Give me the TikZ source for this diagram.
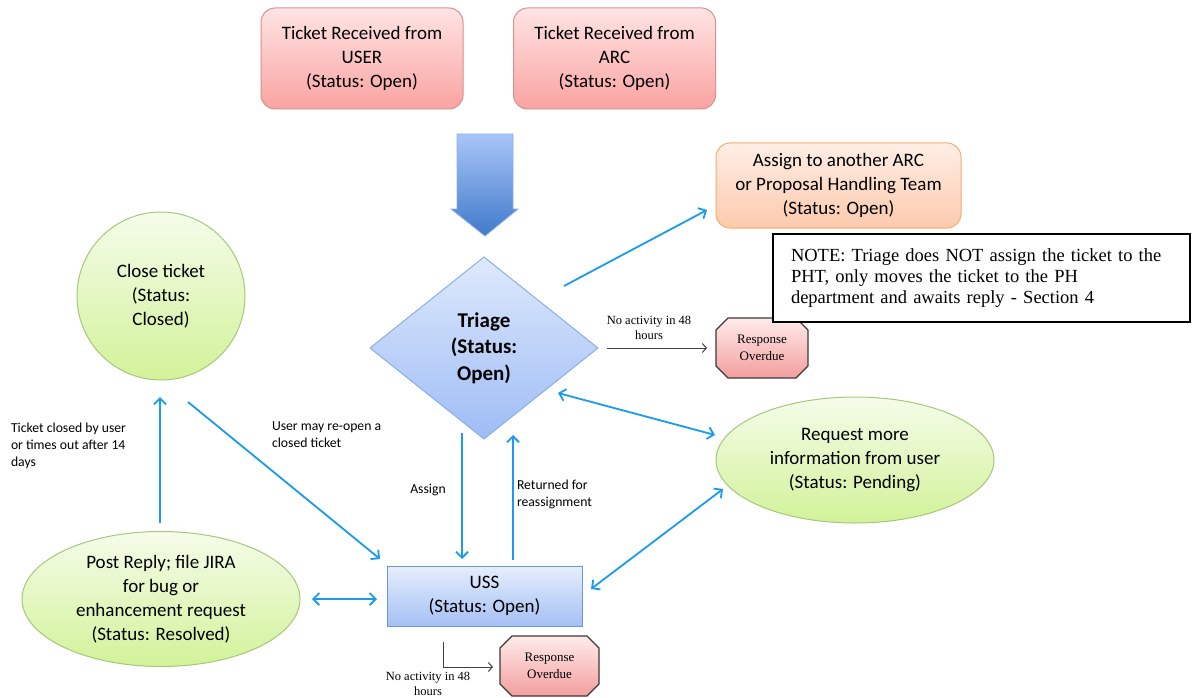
\documentclass[tikz,border=0pt]{standalone}
\usepackage{fontspec}
\setmainfont{Carlito}
\newfontfamily\seriffont{Liberation Serif}
\usetikzlibrary{shapes.geometric,arrows.meta}
\definecolor{pinkline}{HTML}{D9908E}
\definecolor{pinktop}{HTML}{FFE4E4}
\definecolor{pinkbot}{HTML}{F9A3A1}
\definecolor{orline}{HTML}{F6AC70}
\definecolor{ortop}{HTML}{FFEEE6}
\definecolor{orbot}{HTML}{FCCAAC}
\definecolor{diaLine}{HTML}{8CAEE8}
\definecolor{diaTop}{HTML}{DEE9FC}
\definecolor{diaBot}{HTML}{9EBCF5}
\definecolor{ussLine}{HTML}{6C96DA}
\definecolor{ussTop}{HTML}{E5EEFD}
\definecolor{ussBot}{HTML}{A5C0F4}
\definecolor{grLine}{HTML}{A8C77A}
\definecolor{grTop}{HTML}{F5FCEA}
\definecolor{grBot}{HTML}{D2F299}
\definecolor{octLine}{HTML}{3A3A3A}
\definecolor{octTop}{HTML}{FFEBEB}
\definecolor{octBot}{HTML}{F39E9E}
\definecolor{arrLine}{HTML}{8EAFE6}
\definecolor{arrTop}{HTML}{A9C5F8}
\definecolor{arrBot}{HTML}{3F7ACB}
\definecolor{connBlue}{HTML}{1A9AF0}
\definecolor{grayLine}{HTML}{404040}
\begin{document}
\begin{tikzpicture}[x=1pt,y=-1pt,
  every node/.style={inner sep=0pt,outer sep=0pt},
  bigtxt/.style={font=\fontsize{19}{24}\selectfont,align=center},
  pinkbox/.style={bigtxt,rectangle,rounded corners=14pt,draw=pinkline,line width=1pt,top color=pinktop,bottom color=pinkbot,minimum width=202pt,minimum height=101pt},
  orangebox/.style={bigtxt,rectangle,rounded corners=14pt,draw=orline,line width=1pt,top color=ortop,bottom color=orbot,minimum width=245pt,minimum height=85pt},
  diam/.style={diamond,draw=diaLine,line width=1pt,top color=diaTop,bottom color=diaBot,minimum width=228pt,minimum height=182pt,font=\bfseries\fontsize{21}{26.5}\selectfont,align=center},
  ussbox/.style={bigtxt,rectangle,draw=ussLine,line width=1pt,top color=ussTop,bottom color=ussBot,minimum width=195pt,minimum height=60pt},
  greenshape/.style={bigtxt,ellipse,draw=grLine,line width=1pt,top color=grTop,bottom color=grBot},
  octfill/.style={draw=octLine,line width=1.2pt,top color=octTop,bottom color=octBot},
  octo/.style={rectangle,font=\seriffont\fontsize{13}{17}\selectfont,align=center},
  notebox/.style={rectangle,draw=black,line width=1.8pt,fill=white,minimum width=417pt,minimum height=88pt,font=\seriffont\fontsize{18.5}{21}\selectfont,align=left,text width=381pt},
  lbl/.style={font=\fontsize{13.7}{17}\selectfont,align=left},
  slbl/.style={font=\seriffont\fontsize{12.5}{15}\selectfont,align=center},
  conn/.style={draw=connBlue,line width=1.8pt,-{Straight Barb[length=6pt,width=12pt]}},
  conntwo/.style={draw=connBlue,line width=1.8pt,{Straight Barb[length=6pt,width=12pt]}-{Straight Barb[length=6pt,width=12pt]}},
  grayarr/.style={draw=grayLine,line width=1pt,-{Straight Barb[length=4pt,width=9pt]}},
]
\fill[white] (0,0) rectangle (1199,698);
\useasboundingbox (0,0) rectangle (1199,698);

% block arrow
\path[draw=arrLine,line width=0.8pt,top color=arrTop,bottom color=arrBot]
  (457,134) -- (513,134) -- (513,209) -- (518,209) -- (485,236) -- (451,209) -- (457,209) -- cycle;

% octagon outlines (Response Overdue)
\path[octfill] (716,330) -- (728,318) -- (796,318) -- (808,330) -- (808,366) -- (796,378) -- (728,378) -- (716,366) -- cycle;
\path[octfill] (500,648) -- (512,636) -- (587,636) -- (599,648) -- (599,684) -- (587,696) -- (512,696) -- (500,684) -- cycle;

% nodes
\node[pinkbox] (user) at (362,58.5) {Ticket Received from\\USER\\(Status: Open)};
\node[pinkbox] (arc) at (614.5,58.5) {Ticket Received from\\ARC\\(Status: Open)};
\node[orangebox] (orange) at (838.5,185.5) {Assign to another ARC\\or Proposal Handling Team\\(Status: Open)};
\node[notebox] (note) at (981.5,278) {NOTE: Triage does NOT assign the ticket to the\\PHT, only moves the ticket to the PH\\department and awaits reply - Section 4};
\node[diam] (triage) at (484,348) {Triage\\(Status:\\Open)};
\node[octo,minimum width=92pt,minimum height=60pt] (ro1) at (762,348) {Response\\Overdue};
\node[greenshape,circle,minimum size=168pt] (close) at (161,296) {Close ticket\\(Status:\\Closed)};
\node[greenshape,minimum width=278pt,minimum height=126pt] (request) at (855,460) {Request more\\information from user\\(Status: Pending)};
\node[greenshape,minimum width=278pt,minimum height=135pt] (post) at (161,599) {Post Reply; file JIRA\\for bug or\\enhancement request\\(Status: Resolved)};
\node[ussbox] (uss) at (484.5,596) {USS\\(Status: Open)};
\node[octo,minimum width=99pt,minimum height=60pt] (ro2) at (549.5,666) {Response\\Overdue};

% connectors
\draw[conn] ([shift={(80,-62)}]triage.center) -- ([shift={(-9,-18)}]orange.south west);
\draw[grayarr] ([shift={(9,0)}]triage.east) -- ([shift={(-9,0)}]ro1.west);
\draw[conntwo] ([shift={(74,45)}]triage.center) -- ([shift={(-140,-25)}]request.center);
\draw[conn] ([shift={(-22,-6)}]triage.south) -- ([shift={(-22.5,-7)}]uss.north);
\draw[conn] ([shift={(28.5,-6)}]uss.north) -- ([shift={(29,-4)}]triage.south);
\draw[conn] ([shift={(27,106)}]close.center) -- ([shift={(-7,-7)}]uss.north west);
\draw[conn] ([shift={(-1,-9)}]post.north) -- ([shift={(-1,17)}]close.south);
\draw[conntwo] ([shift={(12,0)}]post.east) -- ([shift={(-10,3)}]uss.west);
\draw[conntwo] ([shift={(9,-7)}]uss.east) -- ([shift={(-132,29)}]request.center);
\draw[grayarr] ([shift={(-41.5,16)}]uss.south) |- ([shift={(-7,1)}]ro2.west);

% labels
\node[slbl] (l1) at (649,327.5) {No activity in 48\\hours};
\node[lbl,align=center] (l2) at (428,490) {Assign};
\node[lbl,anchor=west] (l3) at (517,494.5) {Returned for\\reassignment};
\node[lbl,anchor=west] (l4) at (272,435) {User may re-open a\\closed ticket};
\node[lbl,anchor=west] (l5) at (11,446) {Ticket closed by user\\or times out after 14\\days};
\node[slbl] (l6) at (428,683.5) {No activity in 48\\hours};
\end{tikzpicture}
\end{document}
